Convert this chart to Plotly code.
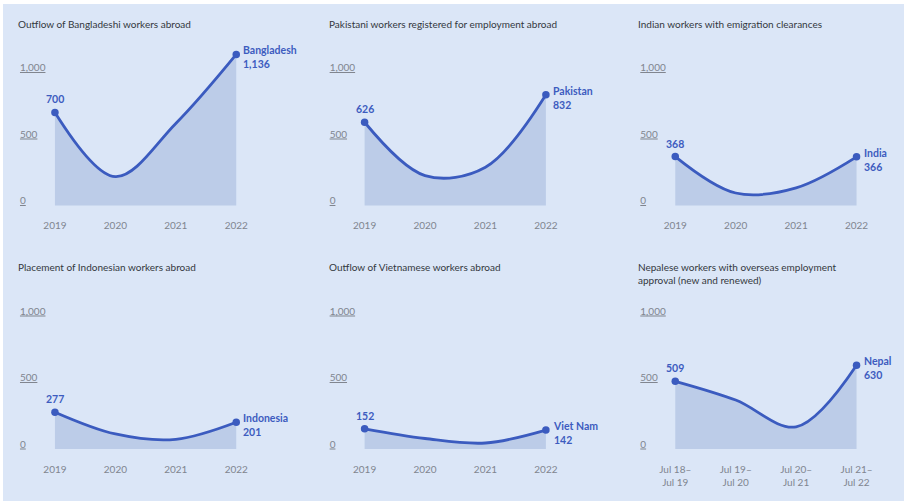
import plotly.graph_objects as go

# ---------------- data (thousands of workers) ----------------
titles = [
    "Outflow of Bangladeshi workers abroad",
    "Pakistani workers registered for employment abroad",
    "Indian workers with emigration clearances",
    "Placement of Indonesian workers abroad",
    "Outflow of Vietnamese workers abroad",
    "Nepalese workers with overseas employment<br>approval (new and renewed)",
]
countries = ["Bangladesh", "Pakistan", "India", "Indonesia", "Viet Nam", "Nepal"]

years = ["2019", "2020", "2021", "2022"]
nepal_periods = ["Jul 18–<br>Jul 19", "Jul 19–<br>Jul 20", "Jul 20–<br>Jul 21", "Jul 21–<br>Jul 22"]

bangladesh = [700, 217, 617, 1136]
pakistan = [626, 225, 288, 832]
india = [368, 94, 133, 366]
indonesia = [277, 113, 73, 201]
vietnam = [152, 79, 45, 142]
nepal = [509, 368, 167, 630]

series = [bangladesh, pakistan, india, indonesia, vietnam, nepal]
xlabels = [years, years, years, years, years, nepal_periods]

y_tickvals = [0, 500, 1000]
y_ticktext = ["0", "500", "1,000"]

# ---------------- styling ----------------
W_REF, H_REF = 905, 501       # reference picture size (positions measured in it)
FIG_W, FIG_H = 917, 501       # figure size
BG = "#dbe6f7"
FILL = "#bccce8"
LINE = "#3b5bbf"
LABEL = "#3d5cbf"
TITLE_C = "#333840"
TICK_C = "#80858f"
FONT = "Lato"

PX_PER_UNIT = 60.5
DATA_OFFSET = 38
X_RANGE = [-DATA_OFFSET / PX_PER_UNIT, 3.05]
Y_RANGE = [-30, 1200]
PX_PER_Y = 0.133
col_width_px = (X_RANGE[1] - X_RANGE[0]) * PX_PER_UNIT
col_left_px = [17, 327, 638]
zero_px = [205.5, 449.0]          # pixel row of value 0 in each row
title_top_px = [15.5, 258.5]
title_left_px = [16, 327, 637]

fig = go.Figure()

for i in range(6):
    r, c = divmod(i, 3)
    n = i + 1
    xa = "x" if n == 1 else f"x{n}"
    ya = "y" if n == 1 else f"y{n}"
    vals = series[i]
    xs = list(range(len(vals)))

    fig.add_trace(go.Scatter(
        x=xs, y=vals, xaxis=xa, yaxis=ya, mode="lines",
        line=dict(color=LINE, width=2.8, shape="spline", smoothing=1.0),
        fill="tozeroy", fillcolor=FILL, hoverinfo="skip", showlegend=False,
    ))
    fig.add_trace(go.Scatter(
        x=[xs[0], xs[-1]], y=[vals[0], vals[-1]], xaxis=xa, yaxis=ya,
        mode="markers", marker=dict(color=LINE, size=7.5),
        hoverinfo="skip", showlegend=False, cliponaxis=False,
    ))

    # data labels
    fig.add_annotation(
        x=xs[0], y=vals[0], xref=xa, yref=ya, text=f"<b>{vals[0]:,}</b>",
        showarrow=False, xanchor="center", yanchor="bottom", yshift=5,
        font=dict(family=FONT, size=10.5, color=LABEL),
    )
    fig.add_annotation(
        x=xs[-1], y=vals[-1], xref=xa, yref=ya,
        text=f"<b>{countries[i]}<br>{vals[-1]:,}</b>",
        showarrow=False, xanchor="left", yanchor="top", xshift=5, yshift=12,
        align="left", font=dict(family=FONT, size=10.5, color=LABEL),
    )

    # panel title
    fig.add_annotation(
        x=title_left_px[c] / W_REF, y=1 - title_top_px[r] / H_REF, xref="paper", yref="paper",
        text=titles[i], showarrow=False, xanchor="left", yanchor="top", align="left",
        font=dict(family=FONT, size=10, color=TITLE_C),
    )

    L = col_left_px[c]
    bot_px = zero_px[r] - Y_RANGE[0] * PX_PER_Y
    top_px = zero_px[r] - Y_RANGE[1] * PX_PER_Y
    fig.update_layout(**{
        ("xaxis" if n == 1 else f"xaxis{n}"): dict(
            domain=[L / W_REF, (L + col_width_px) / W_REF], range=X_RANGE,
            anchor=ya, tickmode="array", tickvals=xs, ticktext=xlabels[i],
            showgrid=False, zeroline=False, showline=False, ticks="",
            ticklabelstandoff=9,
            tickfont=dict(family=FONT, size=10, color=TICK_C),
            fixedrange=True,
        ),
        ("yaxis" if n == 1 else f"yaxis{n}"): dict(
            domain=[1 - bot_px / H_REF, 1 - top_px / H_REF], range=Y_RANGE,
            anchor=xa, tickmode="array", tickvals=y_tickvals,
            ticktext=[f"<u>{t}</u>" for t in y_ticktext],
            ticklabelposition="inside top", ticklabelshift=2,
            showgrid=False, zeroline=False, showline=False, ticks="",
            tickfont=dict(family=FONT, size=10, color=TICK_C),
            fixedrange=True,
        ),
    })

fig.add_shape(type="rect", xref="paper", yref="paper", x0=3 / W_REF, x1=1, y0=0, y1=1 - 4 / H_REF,
              fillcolor=BG, line=dict(width=0), layer="below")

fig.update_layout(
    width=FIG_W, height=FIG_H, autosize=False, margin=dict(l=0, r=0, t=0, b=0),
    paper_bgcolor="white", plot_bgcolor="rgba(0,0,0,0)",
    font=dict(family=FONT),
)

fig.write_html(
    "out.html",
    config={"responsive": False, "displayModeBar": False},
    post_script=(
        "document.body.style.margin='0px';"
        "document.body.style.background='" + BG + "';"
    ),
)
